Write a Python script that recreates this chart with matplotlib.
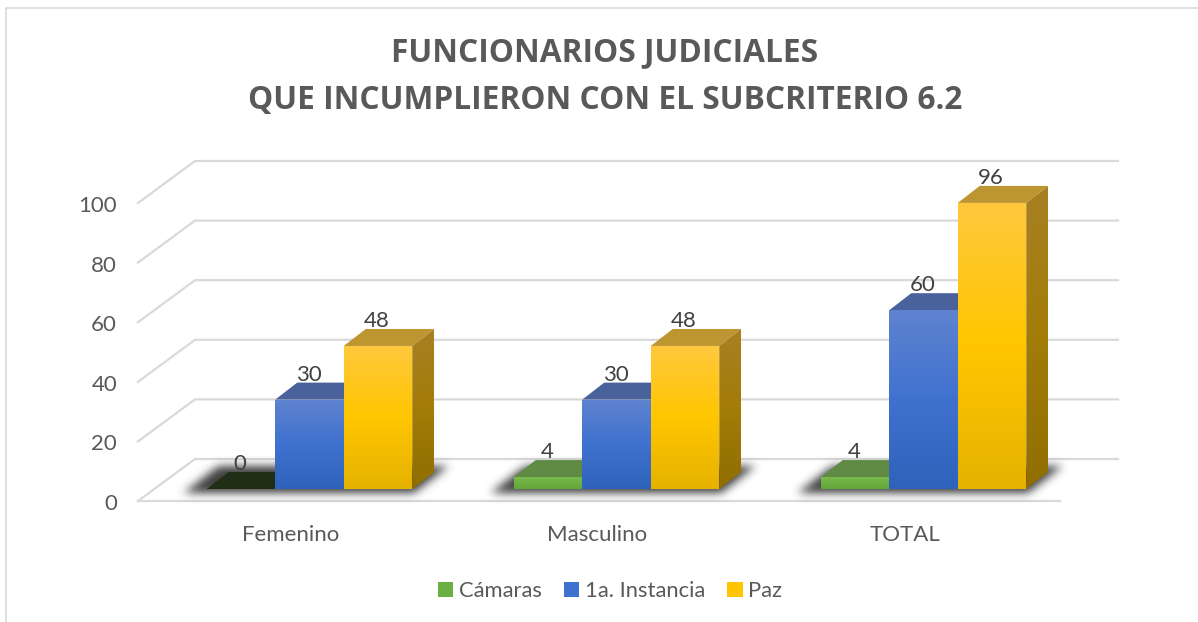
import numpy as np
import matplotlib
matplotlib.use('Agg')
import matplotlib.pyplot as plt
from matplotlib.colors import LinearSegmentedColormap
from matplotlib.lines import Line2D
from matplotlib.patches import Patch, Polygon
from matplotlib.transforms import ScaledTranslation

categorias = ['Femenino', 'Masculino', 'TOTAL']
series = ['Cámaras', '1a. Instancia', 'Paz']
camaras = [0, 4, 4]
instancia = [30, 30, 60]
paz = [48, 48, 96]
valores_eje = [0, 20, 40, 60, 80, 100]

W, H = 1198, 622
CAT_PX = 307.0   # pixeles por categoria
VAL_PX = 2.98    # pixeles por unidad
px = lambda p: p / CAT_PX
py = lambda p: p / VAL_PX

plt.rcParams['font.family'] = ['Lato', 'DejaVu Sans']
fig = plt.figure(figsize=(W / 100, H / 100), dpi=100)
ax = fig.add_axes([156 / W, (H - 489) / H, 921 / W, 298 / H])
ax.set_facecolor('none')
for s in ax.spines.values():
    s.set_visible(False)

# (arriba, medio, abajo) de cada cara
frente = [['#7ABA4E', '#6CAF42', '#62A63A'],
          ['#5F83D0', '#3F72CF', '#2F62BA'],
          ['#FFC83D', '#FFC600', '#E6B200']]
lado = [['#4F7A33', '#4F7A33', '#4F7A33'],
        ['#3E5A9A', '#33528F', '#2A4880'],
        ['#A88024', '#A37C08', '#8F6E00']]
techo = ['#5F8B45', '#4A629C', '#BE9631']
ancho = 68.5 / CAT_PX
dx, dy = px(22), py(17)


def cara(verts, colores, z):
    verts = np.array(verts)
    cmap = LinearSegmentedColormap.from_list('c', colores)
    grad = np.linspace(0, 1, 256).reshape(-1, 1)
    x0, x1 = verts[:, 0].min(), verts[:, 0].max()
    y0, y1 = verts[:, 1].min(), verts[:, 1].max()
    im = ax.imshow(grad, cmap=cmap, extent=(x0, x1, y0, y1), aspect='auto',
                   origin='upper', zorder=z, interpolation='bilinear')
    im.set_clip_path(Polygon(verts, closed=True, transform=ax.transData))
    im.set_clip_box(fig.bbox)


def sombra(x_izq, z):
    # paralelogramo difuminado sobre el piso, en pixeles relativos a la barra
    gx = np.arange(-60, 340)
    gh = np.arange(-30, 50)
    xx, hh = np.meshgrid(gx, gh)
    izq = -18 + 1.29 * hh
    der = 212 + 1.29 * hh
    mask = ((xx >= izq) & (xx <= der) & (hh >= -4) & (hh <= 22)).astype(float)
    k = np.exp(-np.arange(-15, 16) ** 2 / (2 * 4.5 ** 2))
    k /= k.sum()
    mask = np.apply_along_axis(lambda r: np.convolve(r, k, mode='same'), 1, mask)
    mask = np.apply_along_axis(lambda r: np.convolve(r, k, mode='same'), 0, mask)
    rgba = np.zeros(mask.shape + (4,))
    rgba[..., :3] = 0.16
    rgba[..., 3] = mask * 0.9
    im = ax.imshow(rgba, extent=(x_izq + px(-60), x_izq + px(340), py(-30), py(50)),
                   aspect='auto', origin='lower', zorder=z, interpolation='bilinear')
    im.set_clip_box(fig.bbox)


# paredes y piso
xl = -0.5
xfront = xl - px(18)
xback = xl + px(39)
xright = 2.5 + px(41)
for v in valores_eje:
    ax.plot([xfront, xback, xright], [v - py(12), v + py(30), v + py(30)],
            color='#D9D9D9', lw=1.6, clip_on=False, zorder=1, solid_joinstyle='miter')
ax.plot([xfront, 2.5 - px(17)], [-py(12), -py(12)], color='#D9D9D9', lw=1.6,
        clip_on=False, zorder=1)

# sombra bajo las barras
for i in range(len(categorias)):
    sombra(i - 1.5 * ancho, 2)

# barras
z = 3
for j, vals in enumerate([camaras, instancia, paz]):
    for i, v in enumerate(vals):
        x0 = i + (j - 1.5) * ancho
        x1 = x0 + ancho
        cx = (x0 + x1) / 2
        color_techo = '#1F2E14' if v == 0 else techo[j]
        ax.add_patch(Polygon([(x0, v), (x1, v), (x1 + dx, v + dy), (x0 + dx, v + dy)],
                             closed=True, fc=color_techo, ec='none', clip_on=False, zorder=z + j * 3))
        if v > 0:
            cara([(x1, 0), (x1 + dx, dy), (x1 + dx, v + dy), (x1, v)], lado[j], z + j * 3 + 1)
            cara([(x0, 0), (x1, 0), (x1, v), (x0, v)], frente[j], z + j * 3 + 2)
        ax.text(cx - px(1), v + py(25), str(v), ha='center', va='center', fontsize=16,
                color='#404040', zorder=20)

ax.set_xlim(-0.5, 2.5)
ax.set_ylim(0, 100)
ax.set_xticks(range(len(categorias)))
ax.set_xticklabels(categorias)
ax.set_yticks(valores_eje)
ax.tick_params(axis='x', length=0, pad=25.7, labelsize=16, labelcolor='#595959')
ax.tick_params(axis='y', length=0, pad=28, labelsize=16, labelcolor='#595959')
# las etiquetas siguen el plano frontal del piso
for lab in ax.get_xticklabels():
    lab.set_transform(lab.get_transform() + ScaledTranslation(-19 / 100, 0, fig.dpi_scale_trans))
for lab in ax.get_yticklabels():
    lab.set_transform(lab.get_transform() + ScaledTranslation(0, -13 / 100, fig.dpi_scale_trans))

titulo_fuente = ['Open Sans', 'DejaVu Sans']
fig.text(605 / W, 1 - 53 / H, 'FUNCIONARIOS JUDICIALES', ha='center', va='center',
         fontsize=22.75, fontweight='bold', color='#595959', family=titulo_fuente)
fig.text(605 / W, 1 - 100 / H, 'QUE INCUMPLIERON CON EL SUBCRITERIO 6.2', ha='center', va='center',
         fontsize=22.75, fontweight='bold', color='#595959', family=titulo_fuente)

handles = [Patch(fc=frente[j][1], ec='none') for j in range(3)]
fig.legend(handles, series, loc='center', bbox_to_anchor=(610 / W, 1 - 591 / H), ncol=3,
           frameon=False, fontsize=15.8, labelcolor='#595959', handlelength=0.72,
           handleheight=0.72, handletextpad=0.25, columnspacing=1.0)

# borde del grafico
fig.add_artist(Line2D([5.5 / W, 5.5 / W, 1 - 0.5 / W], [0, 1 - 8 / H, 1 - 8 / H],
                      color='#D9D9D9', lw=1.2))

fig.savefig('out.png', dpi=100)
